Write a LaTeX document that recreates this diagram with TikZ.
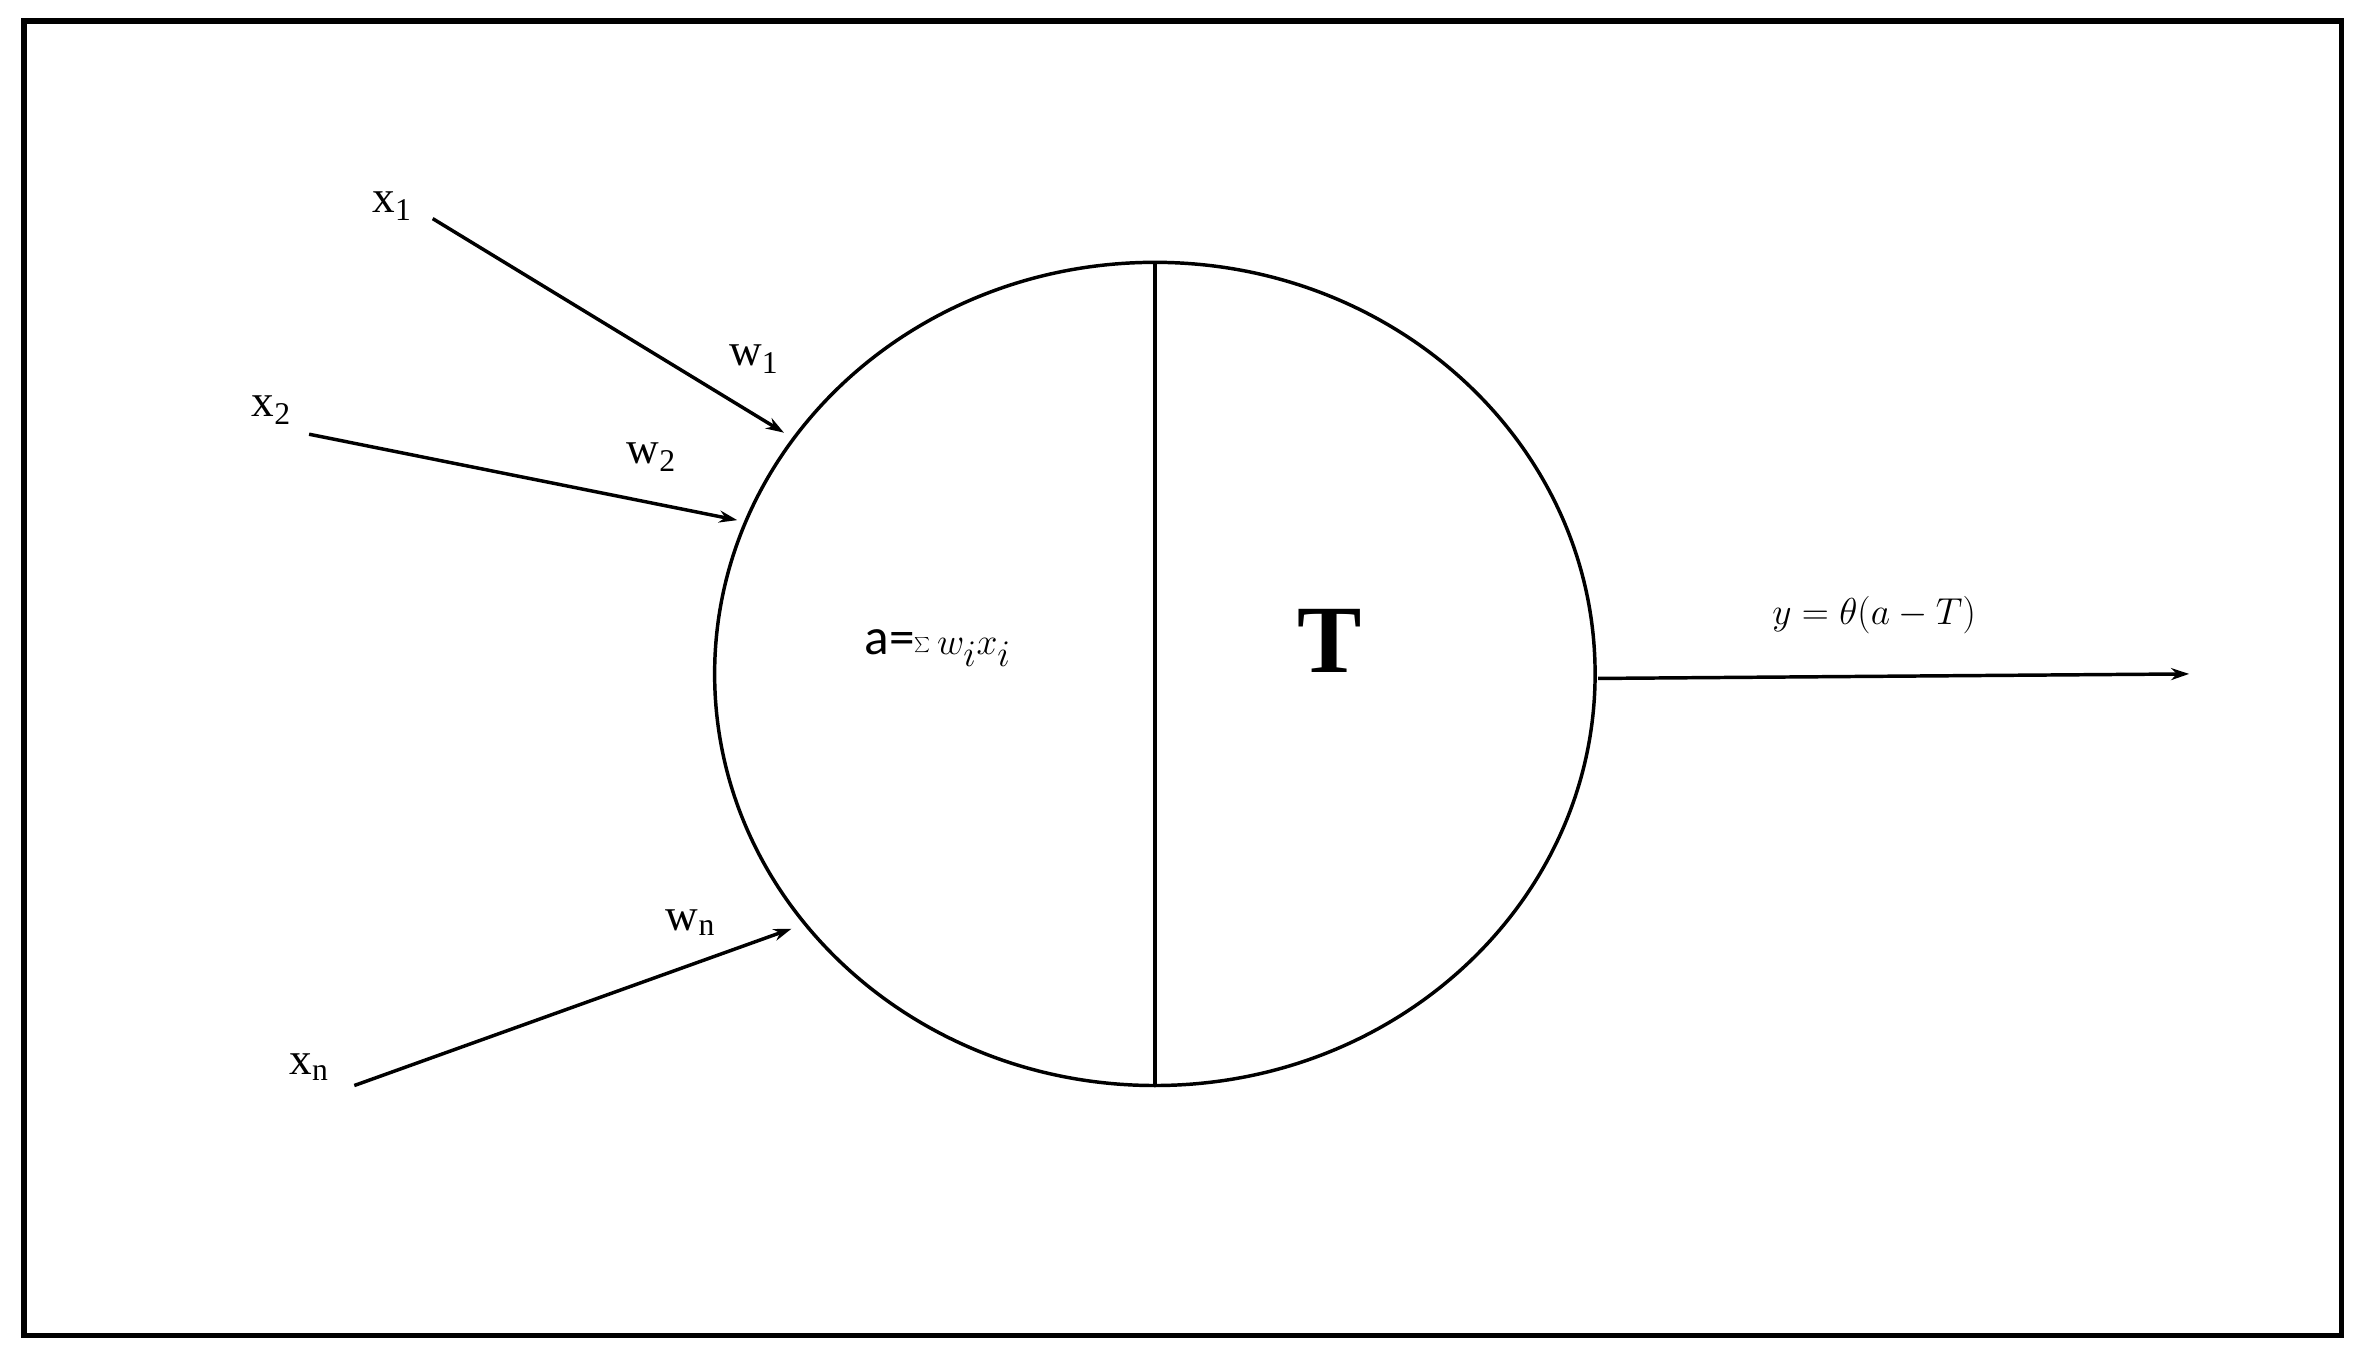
\documentclass[tikz,border=0pt]{standalone}
\usepackage{fontspec}
\setmainfont{Liberation Serif}
\newfontfamily\calib{Carlito}
\usetikzlibrary{arrows.meta,shapes.geometric}
\begin{document}
\begin{tikzpicture}[x=1pt,y=-1pt,
  ln/.style={line width=2.3pt},
  arr/.style={ln,-{Stealth[length=12pt,width=8pt]}},
  lab/.style={font=\fontsize{30}{34}\selectfont,inner sep=0pt}]
\useasboundingbox (0,0) rectangle (1568,904);
\fill[white] (0,0) rectangle (1568,904);
\draw[line width=3.5pt] (16,14) rectangle (1553,886);
\node[draw,ln,ellipse,minimum width=584pt,minimum height=546pt,inner sep=0pt] (c) at (766,447) {};
\coordinate (top) at (766,174);
\coordinate (bot) at (766,720);
\draw[ln] (top) -- (bot);
\coordinate (s1) at (287,145); \coordinate (e1) at (520,287);
\coordinate (s2) at (205,288); \coordinate (e2) at (489,345);
\coordinate (sn) at (235,720); \coordinate (en) at (525,616);
\coordinate (so) at (1060,450); \coordinate (eo) at (1452,447);
\draw[arr] (s1) -- (e1);
\draw[arr] (s2) -- (e2);
\draw[arr] (sn) -- (en);
\draw[arr] (so) -- (eo);
\node[lab] (x1) at (260,137) {x$_{\mathrm{1}}$};
\node[lab] (w1) at (500,238) {w$_{\mathrm{1}}$};
\node[lab] (x2) at (180,272) {x$_{\mathrm{2}}$};
\node[lab] (w2) at (432,303) {w$_{\mathrm{2}}$};
\node[lab] (wn) at (458,612) {w$_{\mathrm{n}}$};
\node[lab] (xn) at (205,708) {x$_{\mathrm{n}}$};
\node[lab,font=\fontsize{34}{38}\selectfont] (a) at (622,430) {\calib a=$\sum w_i x_i$};
\node[lab,font=\fontsize{64}{70}\selectfont\bfseries] (T) at (882,425) {T};
\node[lab,font=\fontsize{34}{38}\selectfont] (y) at (1243,408) {$y = \mathrm{\theta}(a - T)$};
\end{tikzpicture}
\end{document}
